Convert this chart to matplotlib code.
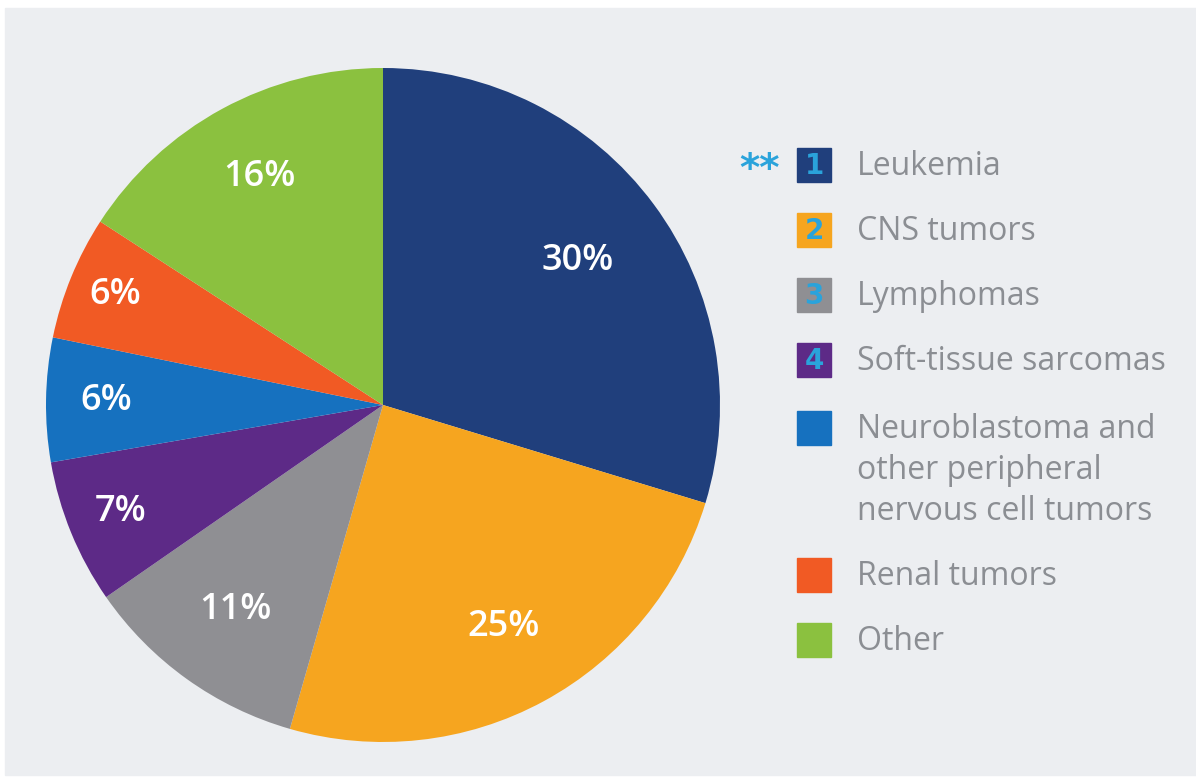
import matplotlib.pyplot as plt
from matplotlib.patches import Rectangle
import numpy as np

categories = ["Leukemia", "CNS tumors", "Lymphomas", "Soft-tissue sarcomas",
              "Neuroblastoma and\nother peripheral\nnervous cell tumors",
              "Renal tumors", "Other"]
percents = [30, 25, 11, 7, 6, 6, 16]
colors = ["#203f7c", "#f6a51f", "#8f8f93", "#5d2a87", "#1671bf", "#f15a24", "#8bc13f"]
marks = ["1", "2", "3", "4", "", "", ""]

# label distance from centre (fraction of radius) for each slice
label_r = [0.72, 0.75, 0.75, 0.84, 0.82, 0.86, 0.77]

W, H = 1196, 783
fig = plt.figure(figsize=(W / 100, H / 100), dpi=100)
fig.patch.set_facecolor("white")

bg = fig.add_axes([0, 0, 1, 1])
bg.set_xlim(0, W)
bg.set_ylim(H, 0)
bg.axis("off")
bg.add_patch(Rectangle((5, 8), W, H - 16, color="#eceef1", zorder=0))

# pie
cx, cy, R = 383, 405, 337
ax = fig.add_axes([(cx - R) / W, (H - cy - R) / H, 2 * R / W, 2 * R / H])
wedges, _ = ax.pie(percents, colors=colors, startangle=90, counterclock=False,
                   wedgeprops=dict(linewidth=0))
ax.set_xlim(-1, 1)
ax.set_ylim(-1, 1)
ax.set_aspect("equal")
for w, p, r in zip(wedges, percents, label_r):
    ang = np.deg2rad((w.theta1 + w.theta2) / 2)
    ax.text(r * np.cos(ang), r * np.sin(ang), f"{p}%", color="white",
            fontsize=26, fontweight=600, family="Open Sans",
            ha="center", va="center")

# legend
rows_y = [165, 230, 295, 360, 428, 575, 640]
sq = 34
for y, c, name, m in zip(rows_y, colors, categories, marks):
    bg.add_patch(Rectangle((797, y - sq / 2), sq, sq, color=c, zorder=2))
    if m:
        bg.text(797 + sq / 2, y + 1, m, color="#2aa3db", fontsize=20,
                fontweight="bold", ha="center", va="center", zorder=3)
    bg.text(857, y - 15, name, color="#8b8e93", fontsize=23,
            family="Open Sans", ha="left", va="top", linespacing=1.33, zorder=3)

bg.text(760, 170, "**", color="#2aa3db", fontsize=28, fontweight="bold",
        ha="center", va="center")

fig.savefig("out.png", dpi=100)
